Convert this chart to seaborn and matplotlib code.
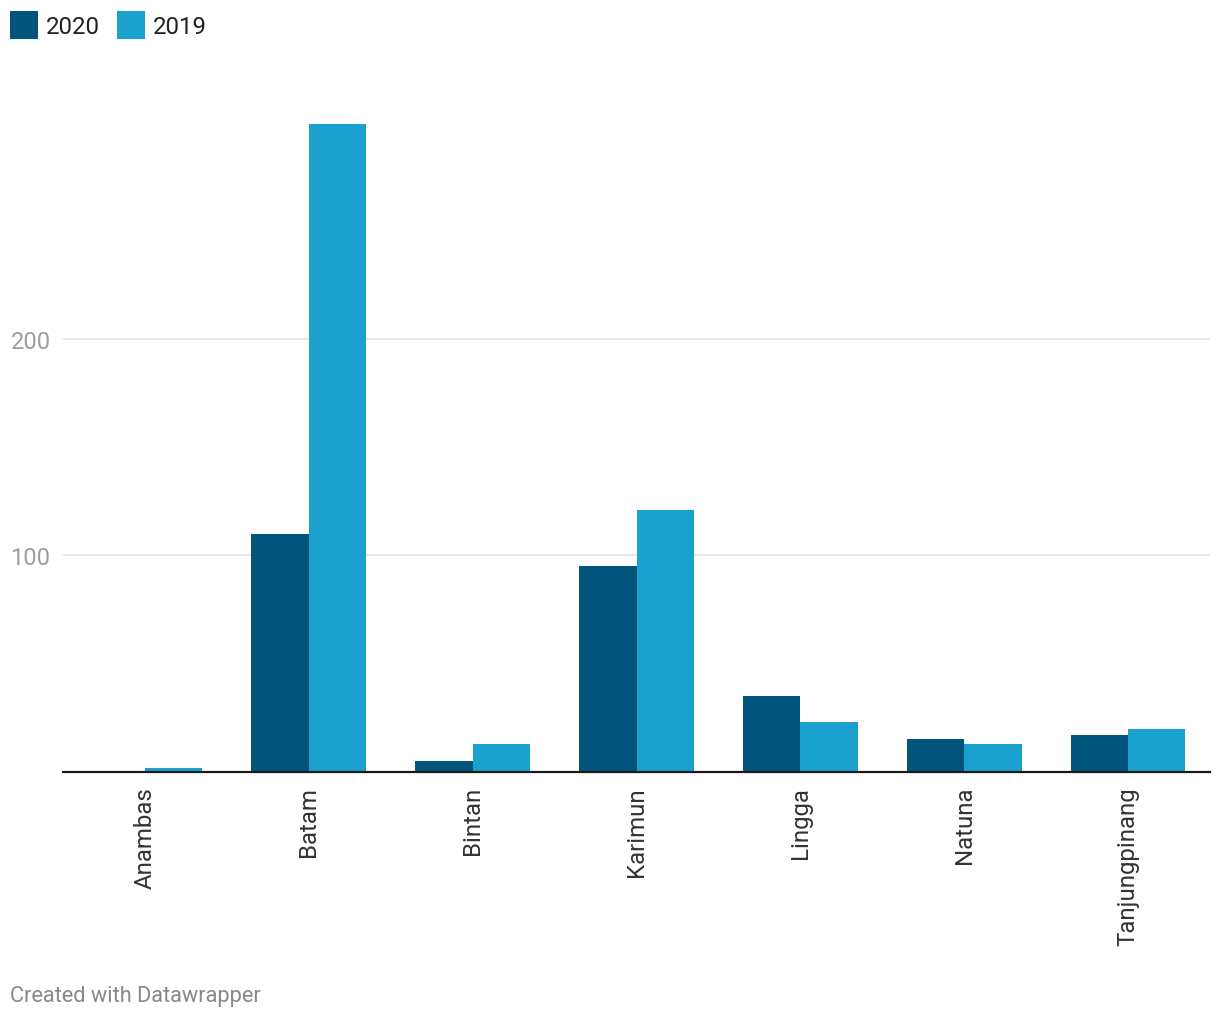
import matplotlib
matplotlib.use("Agg")
import matplotlib.pyplot as plt
import seaborn as sns
import pandas as pd

regions = ["Anambas", "Batam", "Bintan", "Karimun", "Lingga", "Natuna", "Tanjungpinang"]
values_2020 = [0, 110, 5, 95, 35, 15, 17]
values_2019 = [2, 299, 13, 121, 23, 13, 20]
series = ["2020", "2019"]
colors = {"2020": "#01547c", "2019": "#1aa1cd"}
y_ticks = [100, 200]

df = pd.DataFrame({
    "region": regions * 2,
    "year": ["2020"] * len(regions) + ["2019"] * len(regions),
    "value": values_2020 + values_2019,
})

sns.set_theme(style="white")
plt.rcParams["font.family"] = ["Roboto", "DejaVu Sans"]

W, H = 1220, 1020
fig = plt.figure(figsize=(W / 100, H / 100), dpi=100)
ymax = 310
px_per_unit = 216.7 / 100
ax_h = ymax * px_per_unit
ax = fig.add_axes([63 / W, (H - 773) / H, 1147 / W, ax_h / H])

sns.barplot(data=df, x="region", y="value", hue="year", hue_order=series,
            order=regions, palette=colors, width=0.7, saturation=1,
            edgecolor="none", linewidth=0, ax=ax)

ax.set_ylim(0, ymax)
ax.set_xlim(-0.5, len(regions) - 0.5)
ax.set_yticks(y_ticks)
ax.set_yticklabels([str(t) for t in y_ticks])
ax.yaxis.grid(True, color="#e5e5e5", linewidth=1.3)
ax.set_axisbelow(True)
for s in ["top", "right", "left"]:
    ax.spines[s].set_visible(False)
ax.spines["bottom"].set_color("#1a1a1a")
ax.spines["bottom"].set_linewidth(1.6)
ax.spines["bottom"].set_zorder(5)
ax.tick_params(axis="y", length=0, pad=9, labelsize=17, labelcolor="#9e9e9e")
ax.tick_params(axis="x", length=0, pad=10, labelsize=17.3, labelcolor="#333333",
               labelrotation=90)
for lbl in ax.get_xticklabels():
    lbl.set_va("top")
    lbl.set_ha("center")
ax.set_xlabel("")
ax.set_ylabel("")

sns.move_legend(ax, "upper left", bbox_to_anchor=(10 / W, 1 - 12 / H),
                bbox_transform=fig.transFigure, ncol=2, frameon=False, title=None,
                fontsize=17.3, handlelength=1.17, handleheight=1.42,
                handletextpad=0.33, columnspacing=0.7, borderpad=0.0,
                borderaxespad=0.0, labelcolor="#222222")

fig.text(10 / W, 1 - 997 / H, "Created with Datawrapper", fontsize=15.7,
         color="#888888", va="center", ha="left")

fig.savefig("out.png", dpi=100, facecolor="white")
